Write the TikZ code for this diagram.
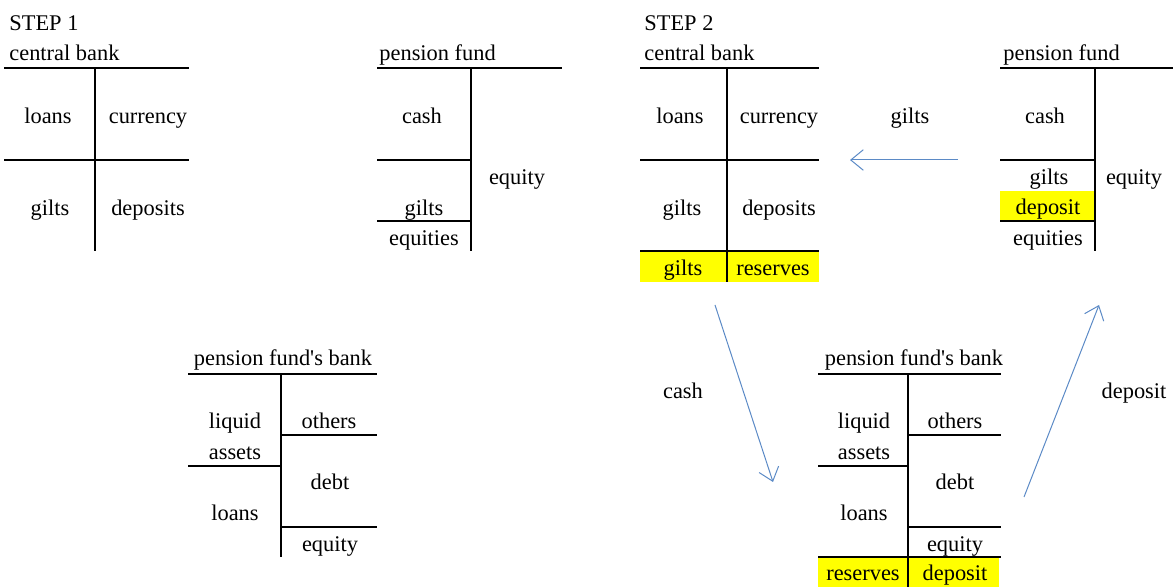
\documentclass[tikz,border=0pt]{standalone}
\usepackage{fontspec}
\setmainfont{Liberation Serif}
\usepackage{tikz}
\usetikzlibrary{arrows.meta}
\definecolor{cFlow}{HTML}{5B8AC6}
\definecolor{cHi}{HTML}{FFFF00}
\tikzset{
  item/.style={inner sep=0pt, text height=8.6pt, text depth=1.4pt,
               font=\fontsize{11.2}{13}\selectfont},
  ttl/.style={item, anchor=west},
  topline/.style={line width=1.4pt},
  split/.style={line width=0.7pt},
  hilite/.style={fill=cHi, draw=none},
  flow/.style={-{Straight Barb[length=2.2mm,width=3.6mm]}, line width=0.5pt, draw=cFlow},
}
\begin{document}
\begin{tikzpicture}[x=0.5pt, y=-0.5pt]
  \useasboundingbox (0,0) rectangle (1173,587);

  % step 1: central bank
  \node[ttl] (step1) at (9,23) {STEP 1};
  \node[ttl] (cb1) at (9,53) {central bank};
  \draw[topline] (4,68) -- (189,68);
  \draw[split] (95,68) -- (95,251);
  \draw[split] (4,160) -- (189,160);
  \node[item] (cb1loans) at (48,116) {loans};
  \node[item] (cb1curr) at (148,116) {currency};
  \node[item] (cb1gilts) at (50,208) {gilts};
  \node[item] (cb1dep) at (148,208) {deposits};

  % step 1: pension fund
  \node[ttl] (pf1) at (379,53) {pension fund};
  \draw[topline] (377,68) -- (562,68);
  \draw[split] (471,68) -- (471,251);
  \draw[split] (377,160) -- (471,160);
  \draw[split] (377,221) -- (471,221);
  \node[item] (pf1cash) at (422,116) {cash};
  \node[item] (pf1eq) at (517,177) {equity};
  \node[item] (pf1gilts) at (424,208) {gilts};
  \node[item] (pf1eqs) at (424,238) {equities};

  % step 1: pension fund's bank
  \node[item] (pfb1) at (283,358) {pension fund\textquotesingle s bank};
  \draw[topline] (188,374) -- (377,374);
  \draw[split] (281,374) -- (281,557);
  \draw[split] (281,435) -- (377,435);
  \draw[split] (188,466) -- (281,466);
  \draw[split] (281,527) -- (377,527);
  \node[item] (pfb1liq) at (235,421) {liquid};
  \node[item] (pfb1ass) at (235,452) {assets};
  \node[item] (pfb1oth) at (329,421) {others};
  \node[item] (pfb1debt) at (330,482) {debt};
  \node[item] (pfb1loans) at (235,513) {loans};
  \node[item] (pfb1eq) at (330,544) {equity};

  % step 2: central bank
  \node[ttl] (step2) at (644,23) {STEP 2};
  \node[ttl] (cb2) at (644,53) {central bank};
  \fill[hilite] (640,251) rectangle (819,282);
  \draw[topline] (640,68) -- (819,68);
  \draw[split] (727,68) -- (727,282);
  \draw[split] (640,160) -- (819,160);
  \draw[split] (640,251) -- (819,251);
  \node[item] (cb2loans) at (680,116) {loans};
  \node[item] (cb2curr) at (779,116) {currency};
  \node[item] (cb2gilts) at (682,208) {gilts};
  \node[item] (cb2dep) at (779,208) {deposits};
  \node[item] (cb2gilts2) at (683,268) {gilts};
  \node[item] (cb2res) at (773,268) {reserves};

  % step 2: pension fund
  \node[ttl] (pf2) at (1003,53) {pension fund};
  \fill[hilite] (1000,191) rectangle (1095,221);
  \draw[topline] (1000,68) -- (1173,68);
  \draw[split] (1095,68) -- (1095,251);
  \draw[split] (1000,160) -- (1095,160);
  \draw[split] (1000,221) -- (1095,221);
  \node[item] (pf2cash) at (1045,116) {cash};
  \node[item] (pf2gilts) at (1049,177) {gilts};
  \node[item] (pf2dep) at (1048,207) {deposit};
  \node[item] (pf2eqs) at (1048,238) {equities};
  \node[item] (pf2eq) at (1134,177) {equity};

  % step 2: pension fund's bank
  \node[item] (pfb2) at (914,358) {pension fund\textquotesingle s bank};
  \fill[hilite] (818,557) rectangle (999,587);
  \draw[topline] (818,374) -- (1001,374);
  \draw[split] (908,374) -- (908,587);
  \draw[split] (908,435) -- (1001,435);
  \draw[split] (818,466) -- (908,466);
  \draw[split] (908,527) -- (1001,527);
  \draw[split] (818,557) -- (1001,557);
  \node[item] (pfb2liq) at (864,421) {liquid};
  \node[item] (pfb2ass) at (864,452) {assets};
  \node[item] (pfb2oth) at (955,421) {others};
  \node[item] (pfb2debt) at (955,482) {debt};
  \node[item] (pfb2loans) at (864,513) {loans};
  \node[item] (pfb2eq) at (955,544) {equity};
  \node[item] (pfb2res) at (863,573) {reserves};
  \node[item] (pfb2dep) at (955,573) {deposit};

  % flows
  \coordinate (giltsS) at (958,160);
  \coordinate (giltsE) at (850,160);
  \coordinate (cashS) at (715,305);
  \coordinate (cashE) at (773,482);
  \coordinate (depS) at (1024,497);
  \coordinate (depE) at (1099,305);
  \draw[flow] (giltsS) -- (giltsE);
  \draw[flow] (cashS) -- (cashE);
  \draw[flow] (depS) -- (depE);
  \node[item] (lgilts) at (910,116) {gilts};
  \node[item] (lcash) at (683,391) {cash};
  \node[item] (ldep) at (1134,391) {deposit};
\end{tikzpicture}
\end{document}
